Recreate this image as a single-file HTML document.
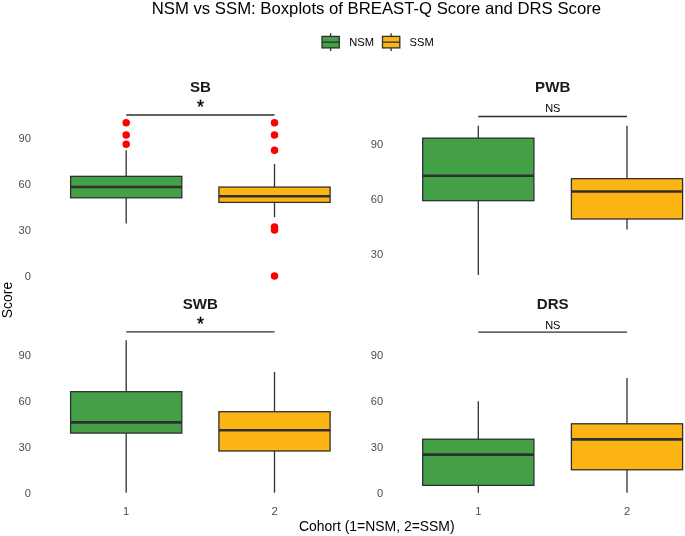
<!DOCTYPE html>
<html><head><meta charset="utf-8"><title>NSM vs SSM</title>
<style>
html,body{margin:0;padding:0;background:#fff;}
svg{display:block;}
text{font-family:"Liberation Sans",Arial,sans-serif;}
.ax{font-size:11.15px;fill:#4D4D4D;}
.strip{font-size:15.1px;font-weight:bold;fill:#1A1A1A;}
.ttl{font-size:16.72px;fill:#000;}
.axt{font-size:13.95px;fill:#000;}
.leg{font-size:11.15px;fill:#000;}
.sig{font-size:11px;fill:#000;}
.star{font-size:18px;fill:#000;stroke:#000;stroke-width:0.4px;}
</style></head><body>
<svg width="685" height="536" viewBox="0 0 685 536">
<rect width="685" height="536" fill="#fff"/>
<text x="376.4" y="14.1" text-anchor="middle" class="ttl">NSM vs SSM: Boxplots of BREAST-Q Score and DRS Score</text>
<!-- legend -->
<line x1="330.6" x2="330.6" y1="33.2" y2="51" stroke="#2f2f2f" stroke-width="1.3"/>
<rect x="322.0" y="36.4" width="17.3" height="11.5" fill="#43A047" stroke="#2f2f2f" stroke-width="1.3"/>
<line x1="322.0" x2="339.3" y1="42.15" y2="42.15" stroke="#2f2f2f" stroke-width="1.3"/>
<text x="349.3" y="46" class="leg">NSM</text>
<line x1="391.1" x2="391.1" y1="33.2" y2="51" stroke="#2f2f2f" stroke-width="1.3"/>
<rect x="382.5" y="36.4" width="17.3" height="11.5" fill="#FDB515" stroke="#2f2f2f" stroke-width="1.3"/>
<line x1="382.5" x2="399.8" y1="42.15" y2="42.15" stroke="#2f2f2f" stroke-width="1.3"/>
<text x="409.6" y="46" class="leg">SSM</text>
<!-- strips -->
<text x="200.4" y="92" text-anchor="middle" class="strip">SB</text>
<text x="552.7" y="92" text-anchor="middle" class="strip">PWB</text>
<text x="200.4" y="309" text-anchor="middle" class="strip">SWB</text>
<text x="552.7" y="309" text-anchor="middle" class="strip">DRS</text>
<!-- brackets -->
<line x1="126.2" x2="274.5" y1="115.0" y2="115.0" stroke="#2f2f2f" stroke-width="1.3"/>
<line x1="478.3" x2="627.0" y1="116.5" y2="116.5" stroke="#2f2f2f" stroke-width="1.3"/>
<line x1="126.2" x2="274.5" y1="331.9" y2="331.9" stroke="#2f2f2f" stroke-width="1.3"/>
<line x1="478.3" x2="627.0" y1="332.1" y2="332.1" stroke="#2f2f2f" stroke-width="1.3"/>
<text x="200.4" y="112.6" text-anchor="middle" class="star">*</text>
<text x="200.4" y="329.7" text-anchor="middle" class="star">*</text>
<text x="552.8" y="111.5" text-anchor="middle" class="sig">NS</text>
<text x="552.8" y="328.8" text-anchor="middle" class="sig">NS</text>
<text x="30.9" y="279.90" text-anchor="end" class="ax">0</text>
<text x="30.9" y="233.90" text-anchor="end" class="ax">30</text>
<text x="30.9" y="187.90" text-anchor="end" class="ax">60</text>
<text x="30.9" y="141.90" text-anchor="end" class="ax">90</text>
<line x1="126.20" x2="126.20" y1="150.27" y2="176.34" stroke="#2f2f2f" stroke-width="1.3"/>
<line x1="126.20" x2="126.20" y1="197.80" y2="223.41" stroke="#2f2f2f" stroke-width="1.3"/>
<rect x="70.60" y="176.34" width="111.20" height="21.47" fill="#43A047" stroke="#2f2f2f" stroke-width="1.3"/>
<line x1="70.60" x2="181.80" y1="187.07" y2="187.07" stroke="#2f2f2f" stroke-width="2.6"/>
<line x1="274.50" x2="274.50" y1="164.07" y2="187.07" stroke="#2f2f2f" stroke-width="1.3"/>
<line x1="274.50" x2="274.50" y1="202.40" y2="217.27" stroke="#2f2f2f" stroke-width="1.3"/>
<rect x="218.90" y="187.07" width="111.20" height="15.33" fill="#FDB515" stroke="#2f2f2f" stroke-width="1.3"/>
<line x1="218.90" x2="330.10" y1="196.27" y2="196.27" stroke="#2f2f2f" stroke-width="2.6"/>
<circle cx="126.20" cy="122.67" r="3.75" fill="#FF0000"/>
<circle cx="126.20" cy="134.94" r="3.75" fill="#FF0000"/>
<circle cx="126.20" cy="144.14" r="3.75" fill="#FF0000"/>
<circle cx="274.50" cy="122.67" r="3.75" fill="#FF0000"/>
<circle cx="274.50" cy="134.94" r="3.75" fill="#FF0000"/>
<circle cx="274.50" cy="150.27" r="3.75" fill="#FF0000"/>
<circle cx="274.50" cy="226.93" r="3.75" fill="#FF0000"/>
<circle cx="274.50" cy="230.00" r="3.75" fill="#FF0000"/>
<circle cx="274.50" cy="276.00" r="3.75" fill="#FF0000"/>
<text x="383.1" y="258.10" text-anchor="end" class="ax">30</text>
<text x="383.1" y="203.10" text-anchor="end" class="ax">60</text>
<text x="383.1" y="148.10" text-anchor="end" class="ax">90</text>
<line x1="478.30" x2="478.30" y1="125.87" y2="138.15" stroke="#2f2f2f" stroke-width="1.3"/>
<line x1="478.30" x2="478.30" y1="200.67" y2="275.10" stroke="#2f2f2f" stroke-width="1.3"/>
<rect x="422.70" y="138.15" width="111.20" height="62.52" fill="#43A047" stroke="#2f2f2f" stroke-width="1.3"/>
<line x1="422.70" x2="533.90" y1="175.74" y2="175.74" stroke="#2f2f2f" stroke-width="2.6"/>
<line x1="627.00" x2="627.00" y1="125.87" y2="178.67" stroke="#2f2f2f" stroke-width="1.3"/>
<line x1="627.00" x2="627.00" y1="219.00" y2="229.45" stroke="#2f2f2f" stroke-width="1.3"/>
<rect x="571.40" y="178.67" width="111.20" height="40.33" fill="#FDB515" stroke="#2f2f2f" stroke-width="1.3"/>
<line x1="571.40" x2="682.60" y1="191.50" y2="191.50" stroke="#2f2f2f" stroke-width="2.6"/>
<text x="30.9" y="496.90" text-anchor="end" class="ax">0</text>
<text x="30.9" y="451.06" text-anchor="end" class="ax">30</text>
<text x="30.9" y="405.22" text-anchor="end" class="ax">60</text>
<text x="30.9" y="359.38" text-anchor="end" class="ax">90</text>
<line x1="126.20" x2="126.20" y1="340.20" y2="391.69" stroke="#2f2f2f" stroke-width="1.3"/>
<line x1="126.20" x2="126.20" y1="433.10" y2="492.69" stroke="#2f2f2f" stroke-width="1.3"/>
<rect x="70.60" y="391.69" width="111.20" height="41.41" fill="#43A047" stroke="#2f2f2f" stroke-width="1.3"/>
<line x1="70.60" x2="181.80" y1="422.41" y2="422.41" stroke="#2f2f2f" stroke-width="2.6"/>
<line x1="274.50" x2="274.50" y1="371.83" y2="411.71" stroke="#2f2f2f" stroke-width="1.3"/>
<line x1="274.50" x2="274.50" y1="450.98" y2="492.69" stroke="#2f2f2f" stroke-width="1.3"/>
<rect x="218.90" y="411.71" width="111.20" height="39.27" fill="#FDB515" stroke="#2f2f2f" stroke-width="1.3"/>
<line x1="218.90" x2="330.10" y1="430.20" y2="430.20" stroke="#2f2f2f" stroke-width="2.6"/>
<text x="383.1" y="496.90" text-anchor="end" class="ax">0</text>
<text x="383.1" y="451.06" text-anchor="end" class="ax">30</text>
<text x="383.1" y="405.22" text-anchor="end" class="ax">60</text>
<text x="383.1" y="359.38" text-anchor="end" class="ax">90</text>
<line x1="478.30" x2="478.30" y1="401.32" y2="439.21" stroke="#2f2f2f" stroke-width="1.3"/>
<line x1="478.30" x2="478.30" y1="485.36" y2="492.69" stroke="#2f2f2f" stroke-width="1.3"/>
<rect x="422.70" y="439.21" width="111.20" height="46.15" fill="#43A047" stroke="#2f2f2f" stroke-width="1.3"/>
<line x1="422.70" x2="533.90" y1="454.65" y2="454.65" stroke="#2f2f2f" stroke-width="2.6"/>
<line x1="627.00" x2="627.00" y1="378.09" y2="423.78" stroke="#2f2f2f" stroke-width="1.3"/>
<line x1="627.00" x2="627.00" y1="469.77" y2="492.69" stroke="#2f2f2f" stroke-width="1.3"/>
<rect x="571.40" y="423.78" width="111.20" height="45.99" fill="#FDB515" stroke="#2f2f2f" stroke-width="1.3"/>
<line x1="571.40" x2="682.60" y1="439.37" y2="439.37" stroke="#2f2f2f" stroke-width="2.6"/>
<!-- x labels -->
<text x="126.2" y="515.2" text-anchor="middle" class="ax">1</text>
<text x="274.5" y="515.2" text-anchor="middle" class="ax">2</text>
<text x="478.3" y="515.2" text-anchor="middle" class="ax">1</text>
<text x="627.0" y="515.2" text-anchor="middle" class="ax">2</text>
<text x="376.8" y="530.5" text-anchor="middle" class="axt">Cohort (1=NSM, 2=SSM)</text>
<text transform="translate(12.2,300) rotate(-90)" text-anchor="middle" class="axt">Score</text>
</svg>
</body></html>
